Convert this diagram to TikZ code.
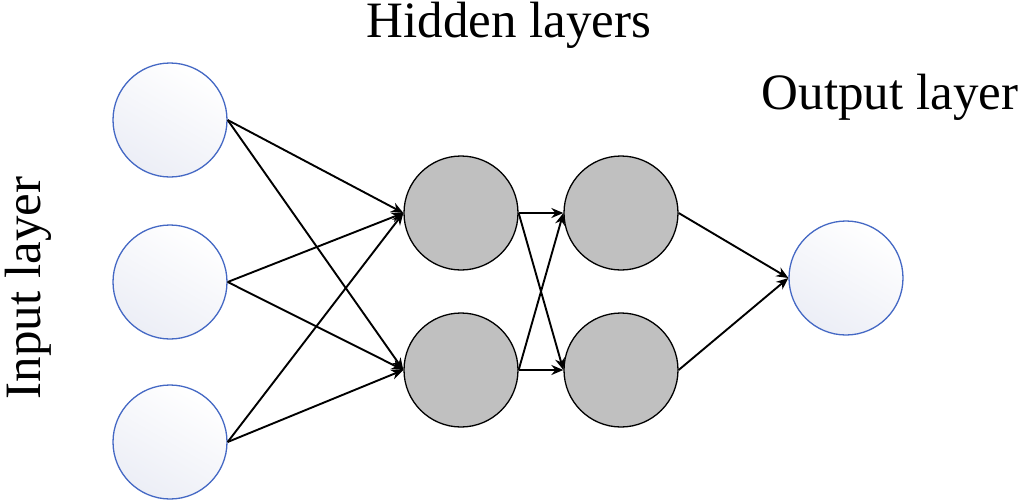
\documentclass[tikz,border=0pt]{standalone}
\usepackage{fontspec}
\setmainfont{Liberation Serif}
\usetikzlibrary{arrows.meta}
\begin{document}
\begin{tikzpicture}[x=1pt,y=-1pt,
  inp/.style={circle,draw={rgb,255:red,68;green,104;blue,196},line width=1.3pt,minimum size=114pt,inner sep=0pt,top color=white,bottom color={rgb,255:red,236;green,238;blue,246},shading angle=-30},
  hid/.style={circle,draw=black,line width=1.3pt,minimum size=114pt,inner sep=0pt,fill={rgb,255:red,192;green,192;blue,192}},
  lab/.style={font=\fontsize{51}{56}\selectfont,inner sep=0pt},
  con/.style={line width=1.9pt,-{Stealth[length=12pt,width=10pt]}}]
\useasboundingbox (0,0) rectangle (1025,501);
\node[inp] (i1) at (170,120) {};
\node[inp] (i2) at (170,282) {};
\node[inp] (i3) at (170,442) {};
\node[hid] (a1) at (461,213) {};
\node[hid] (a2) at (461,370) {};
\node[hid] (b1) at (621,213) {};
\node[hid] (b2) at (621,370) {};
\node[inp] (o) at (846,278) {};
\node[lab] (t1) at (509,25) {Hidden layers};
\node[lab] (t2) at (890,97) {Output layer};
\node[lab,rotate=90] (t3) at (28,288) {Input layer};
\foreach \i in {i1,i2,i3}{
  \draw[con] (\i.east) -- (a1.west);
  \draw[con] (\i.east) -- (a2.west);}
\foreach \a in {a1,a2}{
  \draw[con] (\a.east) -- (b1.west);
  \draw[con] (\a.east) -- (b2.west);}
\draw[con] (b1.east) -- (o.west);
\draw[con] (b2.east) -- (o.west);
\end{tikzpicture}
\end{document}
